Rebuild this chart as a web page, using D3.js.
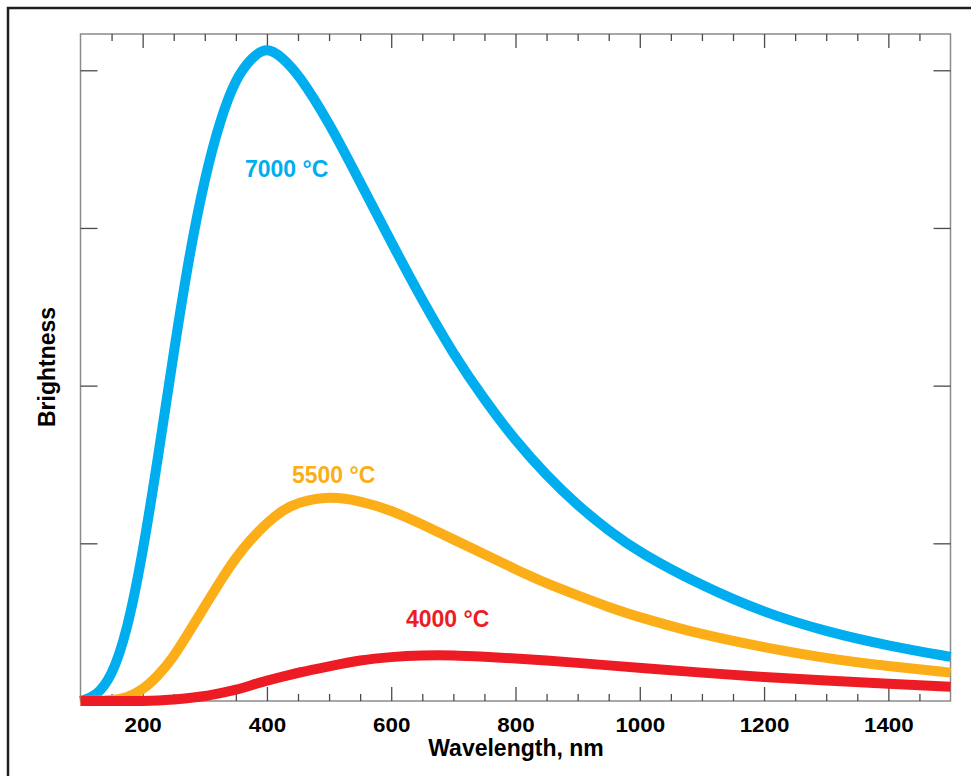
<!DOCTYPE html>
<html>
<head>
<meta charset="utf-8">
<script src="https://cdn.jsdelivr.net/npm/d3@7"></script>
<style>
  body { margin: 0; background: #fff; }
  svg text { font-family: "Liberation Sans", Arial, Helvetica, sans-serif; font-weight: bold; }
</style>
</head>
<body>
<script>
// wavelengths (nm) sampled along the curves
var wavelengths = [100,125,150,175,200,225,250,275,300,325,350,375,400,425,450,500,550,600,650,700,750,800,850,900,950,1000,1100,1200,1300,1400,1500];
// brightness (one y tick = 1 unit)
var hot7000 = [0.00,0.03,0.15,0.44,0.93,1.55,2.21,2.83,3.32,3.69,3.95,4.08,4.15,4.08,3.98,3.67,3.29,2.91,2.54,2.20,1.91,1.65,1.43,1.24,1.08,0.94,0.73,0.56,0.44,0.35,0.28];
var mid5500 = [0.00,0.00,0.005,0.02,0.07,0.16,0.28,0.44,0.60,0.76,0.91,1.03,1.13,1.21,1.26,1.30,1.27,1.21,1.12,1.025,0.93,0.835,0.745,0.67,0.595,0.53,0.42,0.34,0.27,0.22,0.18];
var cool4000 = [0.00,0.00,0.00,0.00,0.00,0.003,0.01,0.018,0.03,0.05,0.07,0.10,0.13,0.154,0.18,0.22,0.26,0.28,0.29,0.29,0.28,0.27,0.257,0.242,0.226,0.21,0.18,0.15,0.13,0.11,0.09];

var seriesNames = ["7000 °C", "5500 °C", "4000 °C"];
var seriesColors = ["#00aeef", "#fbae17", "#ed1c24"];
var xLabels = [200,400,600,800,1000,1200,1400];
var xMinor = [150,250,300,350,450,500,550,650,700,750,850,900,950,1050,1100,1150,1250,1300,1350,1450];
var yTicks = [1,2,3,4];

var width = 971, height = 776;
var svg = d3.select("body").append("svg")
    .attr("width", width)
    .attr("height", height);

// outer frame
svg.append("rect")
    .attr("x", 8).attr("y", 8)
    .attr("width", 1000).attr("height", 1000)
    .attr("fill", "none")
    .attr("stroke", "#1e1e1e")
    .attr("stroke-width", 2.5);

var x = d3.scaleLinear().domain([100, 1500]).range([80.5, 950.5]);
var y = d3.scaleLinear().domain([0, 4.23]).range([701, 34]);

// plot frame
svg.append("rect")
    .attr("x", x(100)).attr("y", y(4.23))
    .attr("width", x(1500) - x(100))
    .attr("height", y(0) - y(4.23))
    .attr("fill", "none")
    .attr("stroke", "#8a8a8a")
    .attr("stroke-width", 1.5);

function styleAxis(g){
    g.select(".domain").remove();
    g.selectAll(".tick line").attr("stroke", "#4a4a4a").attr("stroke-width", 1.3);
}

// bottom: major ticks with labels, minor ticks
svg.append("g")
    .attr("transform", "translate(0," + y(0) + ")")
    .call(d3.axisBottom(x).tickValues(xLabels).tickFormat(d3.format("d"))
        .tickSizeInner(-14).tickSizeOuter(0).tickPadding(16.5))
    .call(styleAxis)
    .call(function(g){
        g.selectAll(".tick text")
            .attr("fill", "#000")
            .attr("font-size", 20)
            .attr("transform", "scale(1.12,1)");
    });
svg.append("g")
    .attr("transform", "translate(0," + y(0) + ")")
    .call(d3.axisBottom(x).tickValues(xMinor).tickSizeInner(-7).tickSizeOuter(0).tickFormat(""))
    .call(styleAxis);

// top ticks
svg.append("g")
    .attr("transform", "translate(0," + y(4.23) + ")")
    .call(d3.axisTop(x).tickValues(xLabels).tickSizeInner(-14).tickSizeOuter(0).tickFormat(""))
    .call(styleAxis);
svg.append("g")
    .attr("transform", "translate(0," + y(4.23) + ")")
    .call(d3.axisTop(x).tickValues(xMinor).tickSizeInner(-7).tickSizeOuter(0).tickFormat(""))
    .call(styleAxis);

// left / right ticks
svg.append("g")
    .attr("transform", "translate(" + x(100) + ",0)")
    .call(d3.axisLeft(y).tickValues(yTicks).tickSizeInner(-17).tickSizeOuter(0).tickFormat(""))
    .call(styleAxis);
svg.append("g")
    .attr("transform", "translate(" + x(1500) + ",0)")
    .call(d3.axisRight(y).tickValues(yTicks).tickSizeInner(-17).tickSizeOuter(0).tickFormat(""))
    .call(styleAxis);

// curves
var line = d3.line()
    .x(function(d){ return x(d[0]); })
    .y(function(d){ return y(d[1]); })
    .curve(d3.curveBasis);

var allSeries = [hot7000, mid5500, cool4000];
allSeries.forEach(function(vals, i){
    svg.append("path")
        .datum(wavelengths.map(function(w, j){ return [w, vals[j]]; }))
        .attr("d", line)
        .attr("fill", "none")
        .attr("stroke", seriesColors[i])
        .attr("stroke-width", 10)
        .attr("stroke-linejoin", "round");
});

// curve labels
var labelPos = [[245, 177], [292, 483], [406, 627]];
svg.selectAll(".curve-label")
    .data(seriesNames)
    .enter().append("text")
    .attr("class", "curve-label")
    .attr("x", function(d, i){ return labelPos[i][0]; })
    .attr("y", function(d, i){ return labelPos[i][1]; })
    .attr("font-size", 23)
    .attr("fill", function(d, i){ return seriesColors[i]; })
    .text(function(d){ return d; });

// axis titles
svg.append("text")
    .attr("x", 516).attr("y", 756)
    .attr("text-anchor", "middle")
    .attr("font-size", 23)
    .attr("fill", "#000")
    .text("Wavelength, nm");

svg.append("text")
    .attr("transform", "translate(55,367) rotate(-90)")
    .attr("text-anchor", "middle")
    .attr("font-size", 23)
    .attr("fill", "#000")
    .text("Brightness");
</script>
</body>
</html>
